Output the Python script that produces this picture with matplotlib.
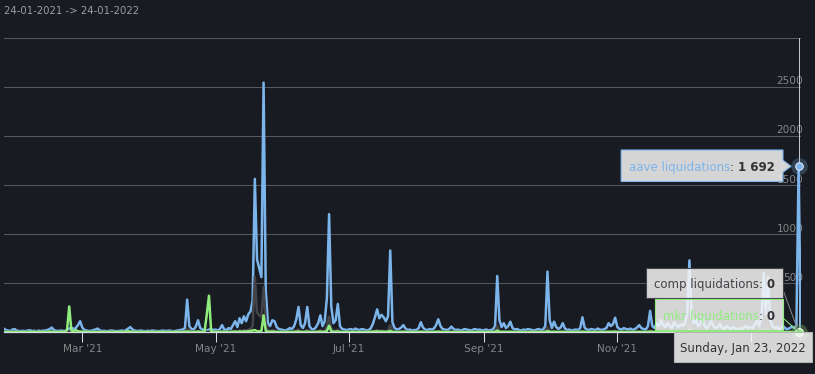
import matplotlib

matplotlib.use("Agg")
import matplotlib.dates as mdates
import matplotlib.pyplot as plt
import pandas as pd
from matplotlib.patches import ConnectionPatch, Polygon
from matplotlib.transforms import Affine2D, ScaledTranslation

# daily liquidations, 24 Jan 2021 .. 24 Jan 2022
START = "2021-01-24"
aave = [
    35, 20, 15, 10, 25, 30, 15, 10,  # jan
    10, 12, 8, 15, 18, 10, 12, 8, 14, 10, 12, 15, 20, 30, 45, 20, 12, 10, 15, 12,
    10, 20, 35, 45, 30, 40, 70, 110,  # feb
    45, 20, 15, 10, 12, 20, 25, 35, 18, 10, 12, 8, 10, 15, 12, 10, 8, 12, 15, 10,
    20, 35, 50, 25, 15, 10, 12, 15, 10, 8, 12,  # mar
    10, 15, 12, 10, 8, 12, 15, 10, 12, 15, 10, 8, 12, 15, 20, 25, 40, 330, 60, 30,
    25, 55, 120, 40, 25, 20, 15, 25, 30, 20,  # apr
    25, 15, 30, 70, 25, 20, 40, 30, 70, 110, 50, 140, 90, 160, 110, 180, 210, 320,
    1560, 740, 650, 560, 2540, 420, 90, 60, 120, 110, 50, 30, 25,  # may
    20, 15, 25, 40, 30, 60, 130, 255, 70, 40, 90, 255, 60, 30, 25, 50, 90, 170, 60,
    110, 350, 1200, 260, 90, 120, 285, 60, 30, 25, 20,  # jun
    25, 30, 20, 35, 25, 20, 30, 25, 15, 20, 35, 80, 150, 230, 140, 175, 150, 110,
    160, 830, 100, 40, 25, 30, 45, 70, 35, 20, 25, 15, 20,  # jul
    20, 40, 100, 45, 25, 20, 30, 25, 35, 70, 130, 60, 30, 25, 20, 30, 55, 30, 20,
    25, 15, 20, 30, 25, 20, 15, 25, 30, 20, 25, 15,  # aug
    20, 25, 15, 20, 25, 60, 570, 120, 50, 90, 40, 60, 105, 40, 25, 30, 20, 15, 25,
    20, 30, 25, 20, 15, 25, 30, 20, 25, 60, 615,  # sep
    120, 40, 105, 50, 30, 45, 90, 35, 20, 25, 15, 20, 25, 20, 40, 150, 45, 25, 20,
    30, 25, 20, 35, 25, 20, 30, 40, 90, 60, 80, 145,  # oct
    50, 30, 25, 40, 30, 25, 35, 20, 30, 45, 70, 40, 30, 25, 60, 215, 60, 40, 90,
    60, 120, 70, 50, 90, 60, 40, 100, 70, 50, 80,  # nov
    60, 90, 200, 730, 150, 90, 120, 60, 80, 140, 60, 40, 70, 110, 60, 40, 50, 80,
    40, 30, 60, 40, 30, 50, 35, 25, 40, 30, 45, 60, 40,  # dec
    50, 40, 80, 120, 60, 150, 600, 180, 560, 120, 60, 40, 50, 30, 40, 60, 35, 30,
    40, 55, 40, 70, 1692, 20,  # jan
]
comp = [
    0, 2, 0, 1, 3, 0, 0, 2,
    0, 1, 0, 2, 0, 0, 1, 3, 0, 0, 2, 0, 1, 4, 2, 0, 0, 1, 0, 2, 3, 5, 8, 3, 1, 2, 4, 6,
    3, 1, 0, 0, 2, 1, 0, 3, 1, 0, 0, 1, 0, 2, 0, 0, 1, 0, 0, 2, 1, 3, 5, 1, 0, 0, 1, 0,
    2, 0, 0,
    1, 0, 0, 2, 0, 0, 1, 0, 0, 1, 2, 0, 0, 1, 3, 2, 5, 30, 6, 2, 1, 4, 10, 3, 1, 0, 2,
    3, 2, 1,
    2, 1, 3, 6, 2, 1, 4, 3, 8, 12, 5, 15, 10, 20, 15, 25, 30, 60, 560, 200, 170, 150,
    460, 90, 15, 10, 20, 15, 6, 3, 2,
    2, 1, 3, 4, 2, 6, 15, 25, 6, 3, 8, 20, 5, 2, 2, 5, 10, 20, 6, 12, 60, 155, 40, 10,
    12, 25, 5, 2, 1, 2,
    2, 3, 1, 4, 2, 1, 3, 2, 1, 2, 4, 6, 12, 20, 10, 15, 12, 6, 15, 70, 10, 3, 2, 3, 4,
    6, 3, 1, 2, 1, 2,
    1, 3, 8, 4, 2, 1, 2, 1, 3, 5, 10, 4, 2, 1, 1, 2, 4, 2, 1, 2, 0, 1, 2, 1, 0, 1, 2,
    3, 1, 2, 0,
    1, 2, 0, 1, 2, 5, 60, 10, 4, 6, 3, 4, 8, 3, 1, 2, 1, 0, 2, 1, 3, 2, 1, 0, 2, 3, 1,
    2, 5, 50,
    8, 3, 6, 4, 2, 3, 6, 2, 1, 2, 0, 1, 2, 1, 3, 10, 3, 1, 1, 2, 2, 1, 3, 2, 1, 2, 3,
    6, 4, 5, 10,
    4, 2, 1, 3, 2, 1, 3, 1, 2, 3, 5, 3, 2, 1, 4, 15, 5, 3, 6, 4, 8, 5, 3, 6, 4, 3, 7,
    5, 3, 6,
    4, 6, 15, 80, 10, 6, 8, 4, 6, 10, 4, 3, 5, 8, 4, 3, 4, 6, 3, 2, 4, 3, 2, 4, 3, 2,
    3, 2, 3, 4, 3,
    4, 3, 6, 8, 4, 10, 40, 12, 35, 8, 4, 3, 4, 2, 3, 4, 2, 2, 3, 4, 3, 5, 0, 1,
]
mkr = [
    0, 0, 1, 0, 0, 2, 0, 0,
    0, 1, 0, 0, 2, 0, 0, 1, 0, 0, 3, 0, 1, 5, 2, 0, 0, 1, 0, 4, 2, 20, 260, 15, 5, 20,
    8, 4,
    3, 1, 0, 0, 1, 0, 0, 2, 0, 0, 1, 0, 0, 2, 0, 1, 0, 0, 3, 1, 5, 8, 4, 2, 1, 0, 0, 1,
    0, 0, 2,
    0, 1, 0, 0, 2, 0, 0, 1, 0, 0, 1, 0, 2, 0, 1, 3, 2, 5, 3, 1, 0, 2, 4, 2, 1, 10, 180,
    370, 10, 2,
    1, 0, 2, 3, 1, 0, 2, 1, 3, 4, 2, 5, 3, 6, 4, 8, 10, 15, 20, 8, 6, 10, 170, 12, 4,
    3, 5, 2, 1, 0, 1,
    1, 0, 1, 2, 0, 1, 3, 5, 1, 0, 2, 4, 1, 0, 0, 1, 2, 4, 1, 3, 10, 65, 8, 2, 3, 5, 1,
    0, 0, 1,
    0, 1, 0, 1, 0, 0, 1, 0, 0, 1, 2, 3, 5, 6, 3, 4, 3, 2, 4, 12, 2, 1, 0, 1, 1, 2, 1,
    0, 1, 0, 0,
    0, 1, 2, 1, 0, 0, 1, 0, 1, 1, 3, 1, 0, 0, 0, 1, 1, 0, 0, 1, 0, 0, 1, 0, 0, 0, 1,
    1, 0, 1, 0,
    0, 1, 0, 0, 1, 2, 15, 3, 1, 2, 1, 1, 2, 1, 0, 1, 0, 0, 1, 0, 1, 1, 0, 0, 1, 1, 0,
    1, 2, 10,
    2, 1, 2, 1, 0, 1, 2, 0, 0, 1, 0, 0, 1, 0, 1, 3, 1, 0, 0, 1, 1, 0, 1, 1, 0, 1, 1,
    2, 1, 2, 3,
    1, 1, 0, 1, 1, 0, 1, 0, 1, 1, 2, 1, 1, 0, 1, 4, 2, 1, 2, 1, 3, 2, 1, 2, 1, 1, 2,
    2, 1, 2,
    1, 2, 4, 20, 3, 2, 2, 1, 2, 3, 1, 1, 1, 2, 1, 1, 1, 2, 1, 0, 1, 1, 0, 1, 1, 0, 1,
    0, 1, 1, 1,
    1, 1, 2, 2, 1, 3, 10, 3, 8, 2, 1, 1, 1, 0, 1, 1, 0, 0, 1, 1, 0, 1, 0, 0,
]
series_names = ["aave liquidations", "comp liquidations", "mkr liquidations"]
month_ticks = ["2021-03-01", "2021-05-01", "2021-07-01", "2021-09-01", "2021-11-01", "2022-01-01"]
y_grid = [500, 1000, 1500, 2000, 2500, 3000]
y_labels = [500, 1000, 1500, 2000, 2500]
range_title = "24-01-2021 -> 24-01-2022"
hover_day = "2022-01-23"

BG = "#181b22"
COLORS = ["#7cb5ec", "#434348", "#90ed7d"]
GRID = "#55585e"
AXIS = "#d8dce3"
LABEL = "#858585"
W, H = 815, 374

fig = plt.figure(figsize=(W / 100, H / 100), dpi=100, facecolor=BG)
ax = fig.add_axes([3.7 / W, 1 - 332 / H, 797.1 / W, 294.5 / H])
ax.set_facecolor(BG)
# pixel coords, origin at the top-left of the figure
pix = Affine2D().scale(1 / W, -1 / H).translate(0, 1) + fig.transFigure

dates = pd.date_range(START, periods=len(aave), freq="D")
all_series = [aave, comp, mkr]
for values, color in zip(all_series, COLORS):
    ax.plot(dates, values, color=color, lw=1.8, solid_joinstyle="round", zorder=3)

ax.set_xlim(dates[0], dates[-1])
ax.set_ylim(0, y_grid[-1])
ax.set_yticks(y_grid)
ax.yaxis.grid(True, color=GRID, lw=0.75)
ax.set_axisbelow(True)
ax.tick_params(axis="y", length=0, labelleft=False)

ticks = pd.to_datetime(month_ticks)
ax.set_xticks(ticks)
ax.set_xticklabels([t.strftime("%b '%y") for t in ticks])
ax.get_xticklabels()[-1].set_visible(False)  # hidden under the date tooltip
ax.tick_params(axis="x", length=7.2, width=0.75, color=AXIS, labelcolor=LABEL,
               labelsize=7.6, pad=1.5)
for side in ("top", "left", "right"):
    ax.spines[side].set_visible(False)
ax.spines["bottom"].set_color(AXIS)
ax.spines["bottom"].set_linewidth(0.9)

label_offset = ScaledTranslation(2.5 / 100, 2.2 / 100, fig.dpi_scale_trans)
for v in y_labels:
    ax.text(1, v, str(v), transform=ax.get_yaxis_transform() + label_offset,
            ha="right", va="baseline", color=LABEL, fontsize=7.6, zorder=2)

fig.text(4, 11, range_title, transform=pix, color="#9a9da3", fontsize=7.3, va="center")

# hover state on the last full day
hover = pd.Timestamp(hover_day)
idx = dates.get_loc(hover)
ax.axvline(hover, color="#cccccc", lw=0.7, zorder=2)
for values, color in zip(all_series, COLORS):
    ax.plot([hover], [values[idx]], "o", ms=12, color=color, alpha=0.25, mew=0,
            clip_on=False, zorder=5)
    ax.plot([hover], [values[idx]], "o", ms=5.5, mfc=color, mec="white", mew=0.6,
            clip_on=False, zorder=6)

renderer = fig.canvas.get_renderer()
BOX_FC = (247 / 255, 247 / 255, 247 / 255, 0.85)
TXT = "#333333"


def tooltip(name, color, value, top, bottom, right=783, pointer=False):
    yc = (top + bottom) / 2 + 0.5
    x = right - 8
    parts = [(f"{value:,}".replace(",", " "), TXT, "bold"), (": ", TXT, "normal"),
             (name, color, "normal")]
    for text, c, weight in parts:
        t = fig.text(x, yc, text, transform=pix, ha="right", va="center_baseline",
                     color=c, fontsize=8.5, weight=weight, zorder=12)
        x -= t.get_window_extent(renderer).width
    left = x - 8
    pts = [(left, top), (right, top)]
    if pointer:
        pts += [(right, yc - 6), (right + 8, yc), (right, yc + 6)]
    pts += [(right, bottom), (left, bottom)]
    fig.add_artist(Polygon(pts, closed=True, transform=pix, fc=BOX_FC, ec=color,
                           lw=0.8, zorder=11))


tooltip(series_names[0], COLORS[0], aave[idx], 150, 181.5, pointer=True)
tooltip(series_names[1], COLORS[1], comp[idx], 268, 298)
tooltip(series_names[2], COLORS[2], mkr[idx], 299.5, 330)

for (x0, y0), color, values in (((783, 290), "#8a8a8a", comp), ((783, 318), COLORS[2], mkr)):
    fig.add_artist(ConnectionPatch((x0, y0), (mdates.date2num(hover), values[idx]),
                                   coordsA=pix, coordsB=ax.transData, color=color,
                                   lw=0.7, zorder=10))

# date header
fig.add_artist(Polygon([(674, 332), (812, 332), (812, 362), (674, 362)], closed=True,
                       transform=pix, fc=BOX_FC, ec="#b5b5b5", lw=0.8, zorder=11))
fig.text(743, 347.5, hover.strftime("%A, %b %d, %Y"), transform=pix, ha="center",
         va="center_baseline", color=TXT, fontsize=8.5, zorder=12)

fig.savefig("out.png", dpi=100, facecolor=BG)
